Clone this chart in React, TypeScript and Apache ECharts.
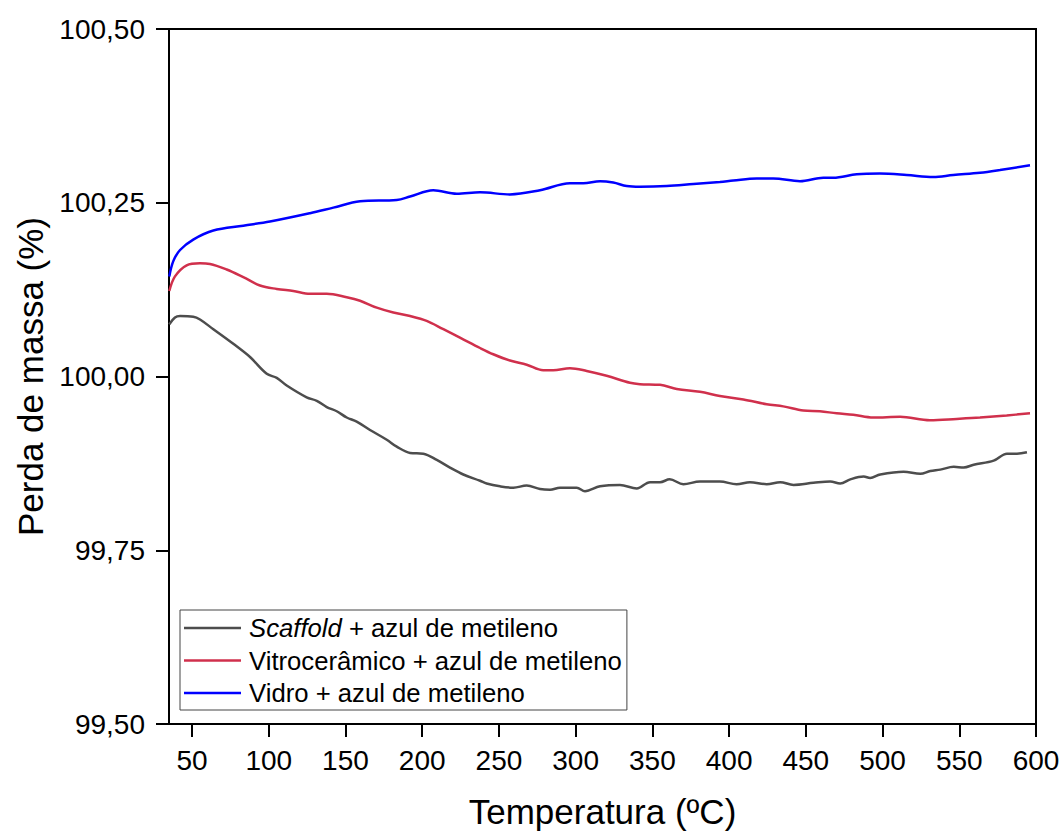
import React, { useEffect, useRef } from "react";
import * as echarts from "echarts";

const xTicks = [50, 100, 150, 200, 250, 300, 350, 400, 450, 500, 550, 600];

const scaffoldT = [35.2, 38.9, 42.2, 50.8, 55.2, 63.9, 76.9, 87.8, 98.7, 105.2, 111.7, 124.7, 131.3, 137.8, 144.3, 150.8, 157.3, 166, 176.9, 183.4, 192.1, 200.7, 209.5, 218.1, 226.8, 237.7, 242, 250.7, 259.4, 268.1, 276.8, 283.3, 289.8, 300.7, 306.1, 315.9, 328.9, 339.8, 348.5, 355, 361.3, 370.2, 381, 394, 404.9, 413.6, 424.5, 433.3, 442, 455, 465.9, 472.4, 479, 487.7, 491.9, 498.5, 513.7, 524.6, 531.1, 537.6, 546.4, 552.9, 559.4, 572.4, 581.1, 587.6, 594.1];
const scaffoldV = [100.075, 100.085, 100.087, 100.086, 100.082, 100.068, 100.047, 100.028, 100.004, 99.998, 99.987, 99.97, 99.965, 99.956, 99.95, 99.941, 99.935, 99.923, 99.909, 99.899, 99.89, 99.889, 99.88, 99.869, 99.859, 99.85, 99.846, 99.842, 99.84, 99.843, 99.838, 99.837, 99.84, 99.84, 99.835, 99.842, 99.844, 99.839, 99.848, 99.848, 99.852, 99.845, 99.849, 99.849, 99.845, 99.848, 99.845, 99.848, 99.844, 99.847, 99.849, 99.846, 99.852, 99.856, 99.854, 99.859, 99.863, 99.86, 99.864, 99.866, 99.87, 99.869, 99.873, 99.879, 99.889, 99.889, 99.891];

const vitroT = [35.2, 38.9, 46.5, 55.2, 61.7, 72.6, 83.4, 94.3, 105.2, 116, 126.9, 137.8, 150.8, 159.5, 170.4, 181.2, 192.1, 202.9, 213.8, 224.6, 237.7, 246.3, 257.2, 268.1, 278.9, 285.4, 296.3, 307.2, 320.2, 335.4, 341.9, 355, 365.9, 381, 394, 409.3, 424.5, 435.3, 448.4, 459.2, 470.1, 480.9, 494, 511.4, 530.9, 548.3, 563.5, 580.9, 596.1];
const vitroV = [100.123, 100.144, 100.16, 100.163, 100.162, 100.154, 100.143, 100.131, 100.126, 100.123, 100.119, 100.119, 100.114, 100.109, 100.099, 100.092, 100.087, 100.08, 100.068, 100.056, 100.041, 100.032, 100.023, 100.017, 100.009, 100.009, 100.012, 100.008, 100.001, 99.991, 99.989, 99.988, 99.982, 99.978, 99.972, 99.967, 99.96, 99.957, 99.951, 99.95, 99.947, 99.945, 99.941, 99.942, 99.937, 99.939, 99.941, 99.944, 99.947];

const vidroT = [35.2, 37.8, 42.2, 50.8, 63.9, 83.4, 100.8, 126.9, 142.1, 159.5, 183.4, 192.1, 207.2, 222.5, 237.7, 257.2, 276.8, 296.3, 305, 315.9, 324.5, 333.3, 341.9, 359.3, 376.7, 394, 402.7, 418, 428.8, 446.2, 461.4, 467.9, 483.2, 498.3, 515.7, 533.1, 546.1, 563.5, 576.5, 596.1];
const vidroV = [100.144, 100.166, 100.182, 100.197, 100.21, 100.217, 100.223, 100.235, 100.243, 100.252, 100.254, 100.259, 100.268, 100.263, 100.265, 100.262, 100.268, 100.278, 100.278, 100.281, 100.279, 100.274, 100.273, 100.274, 100.277, 100.28, 100.282, 100.285, 100.285, 100.281, 100.286, 100.286, 100.291, 100.292, 100.29, 100.287, 100.29, 100.293, 100.297, 100.304];

const seriesNames = [
  "Scaffold + azul de metileno",
  "Vitrocerâmico + azul de metileno",
  "Vidro + azul de metileno",
];
const seriesColors = ["#4d4d4d", "#d0304c", "#0000ff"];

const zip = (t: number[], v: number[]) => t.map((x, i) => [x, v[i]]);

const FONT = "'Liberation Sans', Arial, sans-serif";

export default function App() {
  const ref = useRef<HTMLDivElement>(null);
  useEffect(() => {
    document.body.style.margin = "0";
    const chart = echarts.init(ref.current!, null, { renderer: "svg" });
    const datasets = [zip(scaffoldT, scaffoldV), zip(vitroT, vitroV), zip(vidroT, vidroV)];
    chart.setOption({
      animation: false,
      backgroundColor: "#fff",
      textStyle: { fontFamily: FONT },
      grid: {
        left: 169,
        right: 28,
        top: 29,
        bottom: 106,
        show: true,
        borderColor: "#000",
        borderWidth: 2,
        backgroundColor: "transparent",
      },
      legend: {
        orient: "vertical",
        left: 180,
        top: 610,
        padding: [5, 5, 4, 4],
        icon: "rect",
        itemWidth: 57,
        itemHeight: 2.5,
        itemGap: 6.5,
        borderColor: "#444",
        borderWidth: 1,
        data: seriesNames,
        formatter: (name: string) => name.replace("Scaffold", "{i|Scaffold}"),
        textStyle: {
          fontFamily: FONT,
          fontSize: 25.7,
          color: "#000",
          lineHeight: 25,
          padding: [0, 0, 0, 3],
          rich: {
            i: { fontStyle: "italic", fontFamily: FONT, fontSize: 25.7, color: "#000", lineHeight: 25 },
          },
        },
      },
      xAxis: {
        type: "value",
        min: 35,
        max: 600,
        name: "Temperatura (ºC)",
        nameLocation: "middle",
        nameGap: 70,
        nameTextStyle: { fontSize: 35, color: "#000", fontFamily: FONT },
        axisLine: { show: true, lineStyle: { color: "#000", width: 2 } },
        axisTick: { show: true, length: 13, lineStyle: { color: "#000", width: 2 }, customValues: xTicks },
        axisLabel: { fontSize: 28, color: "#000", margin: 22, fontFamily: FONT, customValues: xTicks },
        splitLine: { show: false },
      },
      yAxis: {
        type: "value",
        min: 99.5,
        max: 100.5,
        interval: 0.25,
        name: "Perda de massa (%)",
        nameLocation: "middle",
        nameGap: 121,
        nameTextStyle: { fontSize: 35, color: "#000", fontFamily: FONT },
        axisLine: { show: true, lineStyle: { color: "#000", width: 2 } },
        axisTick: { show: true, length: 13, lineStyle: { color: "#000", width: 2 } },
        axisLabel: {
          fontSize: 28,
          color: "#000",
          margin: 24,
          fontFamily: FONT,
          formatter: (v: number) => v.toFixed(2).replace(".", ","),
        },
        splitLine: { show: false },
      },
      series: datasets.map((d, i) => ({
        name: seriesNames[i],
        type: "line",
        data: d,
        symbol: "none",
        smooth: 0.35,
        lineStyle: { color: seriesColors[i], width: 2.5 },
        itemStyle: { color: seriesColors[i] },
        z: 3 - i,
      })),
    });
    return () => chart.dispose();
  }, []);
  return <div ref={ref} style={{ width: 1064, height: 834 }} />;
}
